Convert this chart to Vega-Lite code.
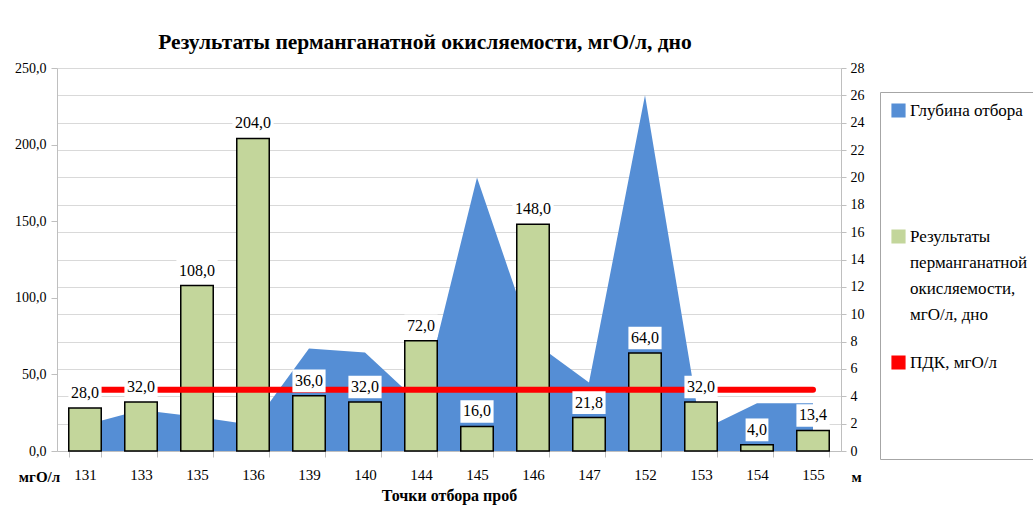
{
  "$schema": "https://vega.github.io/schema/vega-lite/v6.json",
  "width": 784,
  "height": 383,
  "autosize": "none",
  "padding": {"left": 57, "top": 68, "right": 192, "bottom": 61},
  "background": "white",
  "config": {
    "font": "Liberation Serif",
    "view": {"stroke": null},
    "locale": {"number": {"decimal": ",", "thousands": " ", "grouping": [3], "currency": ["", " руб."]}},
    "style": {"guide-label": {"lineHeight": 26}}
  },
  "title": {
    "text": "Результаты перманганатной окисляемости, мгО/л, дно",
    "fontSize": 21.5,
    "fontWeight": "bold",
    "font": "Liberation Serif",
    "color": "black",
    "anchor": "middle",
    "dx": -24,
    "offset": 8
  },
  "data": {
    "values": [
      {"point": "131", "cod": 28.0, "depth": 1.9, "pdk": 40},
      {"point": "133", "cod": 32.0, "depth": 3.0, "pdk": 40},
      {"point": "135", "cod": 108.0, "depth": 2.5, "pdk": 40},
      {"point": "136", "cod": 204.0, "depth": 1.9, "pdk": 40},
      {"point": "139", "cod": 36.0, "depth": 7.5, "pdk": 40},
      {"point": "140", "cod": 32.0, "depth": 7.2, "pdk": 40},
      {"point": "144", "cod": 72.0, "depth": 3.4, "pdk": 40},
      {"point": "145", "cod": 16.0, "depth": 20.0, "pdk": 40},
      {"point": "146", "cod": 148.0, "depth": 8.0, "pdk": 40},
      {"point": "147", "cod": 21.8, "depth": 5.0, "pdk": 40},
      {"point": "152", "cod": 64.0, "depth": 26.0, "pdk": 40},
      {"point": "153", "cod": 32.0, "depth": 1.5, "pdk": 40},
      {"point": "154", "cod": 4.0, "depth": 3.5, "pdk": 40},
      {"point": "155", "cod": 13.4, "depth": 3.5, "pdk": 40}
    ]
  },
  "layer": [
    {
      "mark": {"type": "area", "opacity": 1},
      "encoding": {
        "x": {
          "field": "point", "type": "ordinal", "sort": null, "bandPosition": 0.5,
          "scale": {"paddingInner": 0.42, "paddingOuter": 0.21},
          "axis": {
            "title": "Точки отбора проб",
            "titleFontSize": 16, "titleFontWeight": "bold", "titleColor": "black", "titlePadding": 5,
            "labelAngle": 0, "labelFontSize": 15, "labelColor": "black", "labelPadding": 10,
            "tickBand": "extent", "tickSize": 6, "tickColor": "#bfbfbf",
            "domainColor": "#bfbfbf", "grid": false
          }
        },
        "y": {
          "field": "depth", "type": "quantitative",
          "scale": {"domain": [0, 28], "nice": false},
          "axis": {
            "orient": "right",
            "values": [0, 2, 4, 6, 8, 10, 12, 14, 16, 18, 20, 22, 24, 26, 28],
            "format": "d",
            "grid": true, "gridColor": "#d9d9d9", "gridWidth": 1,
            "domainColor": "#bfbfbf", "tickColor": "#bfbfbf", "tickSize": 5,
            "labelFontSize": 14, "labelColor": "black", "labelPadding": 4,
            "title": "м", "titleAngle": 0, "titleFontSize": 15, "titleFontWeight": "bold", "titleColor": "black",
            "titleX": 15, "titleY": 408, "titleAlign": "center", "titleBaseline": "middle"
          }
        },
        "color": {
          "datum": "Глубина отбора",
          "scale": {
            "domain": ["Глубина отбора", "Результаты перманганатной окисляемости, мгО/л, дно", "ПДК, мгО/л"],
            "range": ["#558ed5", "#c3d69b", "#ff0000"]
          },
          "legend": {
            "title": null,
            "orient": "none",
            "legendX": 823,
            "legendY": 24,
            "padding": 10,
            "strokeColor": "#a6a6a6",
            "fillColor": "white",
            "labelFont": "Liberation Serif",
            "labelFontSize": 17,
            "labelColor": "black",
            "labelLimit": 300,
            "labelOffset": 3,
            "symbolSize": 160,
            "symbolType": "square",
            "rowPadding": 30,
            "labelExpr": "datum.label == 'Результаты перманганатной окисляемости, мгО/л, дно' ? ['Результаты', 'перманганатной', 'окисляемости,', 'мгО/л, дно'] : [datum.label, '', '', '']"
          }
        }
      }
    },
    {
      "layer": [
        {
          "mark": {"type": "bar", "stroke": "black", "strokeWidth": 1.5},
          "encoding": {
            "x": {"field": "point", "type": "ordinal", "sort": null},
            "y": {
              "field": "cod", "type": "quantitative",
              "scale": {"domain": [0, 250], "nice": false},
              "axis": {
                "orient": "left",
                "values": [0, 50, 100, 150, 200, 250],
                "format": ".1f",
                "grid": false,
                "domainColor": "#bfbfbf", "tickColor": "#bfbfbf", "tickSize": 6,
                "labelFontSize": 14, "labelColor": "black", "labelPadding": 5,
                "title": "мгО/л", "titleAngle": 0, "titleFontSize": 15, "titleFontWeight": "bold", "titleColor": "black",
                "titleX": -18, "titleY": 408, "titleAlign": "center", "titleBaseline": "middle"
              }
            },
            "color": {"datum": "Результаты перманганатной окисляемости, мгО/л, дно", "legend": null}
          }
        },
        {
          "mark": {"type": "line", "strokeWidth": 6, "strokeCap": "round"},
          "encoding": {
            "x": {"field": "point", "type": "ordinal", "sort": null, "bandPosition": 0.5},
            "y": {"field": "pdk", "type": "quantitative"},
            "color": {"datum": "ПДК, мгО/л", "legend": null}
          }
        },
        {
          "transform": [{"filter": "datum.cod < 10"}],
          "mark": {"type": "point", "shape": "square", "size": 520, "filled": true, "fill": "white", "opacity": 1, "strokeWidth": 0, "yOffset": -15},
          "encoding": {
            "x": {"field": "point", "type": "ordinal", "sort": null, "bandPosition": 0.5},
            "y": {"field": "cod", "type": "quantitative"}
          }
        },
        {
          "transform": [{"filter": "datum.cod >= 10 && datum.cod < 100"}],
          "mark": {"type": "point", "shape": "M-1,-0.68H1V0.68H-1Z", "size": 1100, "filled": true, "fill": "white", "opacity": 1, "strokeWidth": 0, "yOffset": -15},
          "encoding": {
            "x": {"field": "point", "type": "ordinal", "sort": null, "bandPosition": 0.5},
            "y": {"field": "cod", "type": "quantitative"}
          }
        },
        {
          "transform": [{"filter": "datum.cod >= 100"}],
          "mark": {"type": "point", "shape": "M-1,-0.55H1V0.55H-1Z", "size": 1700, "filled": true, "fill": "white", "opacity": 1, "strokeWidth": 0, "yOffset": -15},
          "encoding": {
            "x": {"field": "point", "type": "ordinal", "sort": null, "bandPosition": 0.5},
            "y": {"field": "cod", "type": "quantitative"}
          }
        },
        {
          "mark": {"type": "text", "fontSize": 16, "font": "Liberation Serif", "color": "black", "baseline": "middle", "yOffset": -15},
          "encoding": {
            "x": {"field": "point", "type": "ordinal", "sort": null, "bandPosition": 0.5},
            "y": {"field": "cod", "type": "quantitative"},
            "text": {"field": "cod", "type": "quantitative", "format": ".1f"}
          }
        }
      ]
    }
  ],
  "resolve": {"scale": {"y": "independent"}}
}
